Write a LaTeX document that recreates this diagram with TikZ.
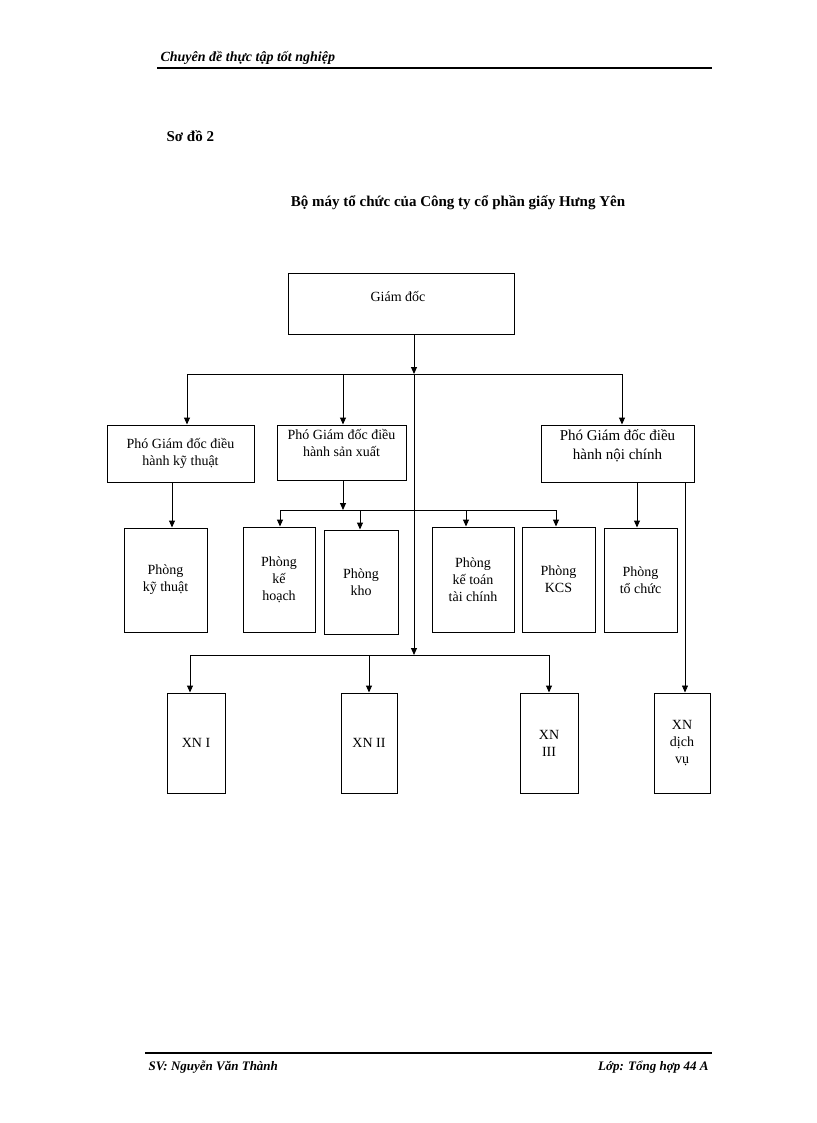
\documentclass[tikz,border=0pt]{standalone}
\usepackage{fontspec}
\setmainfont{Liberation Serif}
\usetikzlibrary{arrows.meta}
\begin{document}
\begin{tikzpicture}[x=1pt,y=-1pt,
  bx/.style={draw,line width=1pt,align=center,font=\fontsize{14}{17}\selectfont},
  ln/.style={line width=1pt},
  ar/.style={line width=1pt,-{Triangle[length=7pt,width=6pt]}}]
\useasboundingbox (0,0) rectangle (816,1123);
% header/footer
\node[anchor=base west,font=\fontsize{14}{16}\selectfont\bfseries\itshape] (hd) at (157,62) {Chuyên đề thực tập tốt nghiệp};
\draw[line width=2.5pt] (157,68) -- (712,68);
\draw[line width=2pt] (145,1053) -- (712,1053);
\node[anchor=base west,font=\fontsize{13}{16}\selectfont\bfseries\itshape] (ft1) at (145,1070) {SV: Nguyễn Văn Thành};
\node[anchor=base east,font=\fontsize{13}{16}\selectfont\bfseries\itshape] (ft2) at (712,1070) {Lớp: Tổng hợp 44 A};
\node[anchor=base west,font=\fontsize{15}{18}\selectfont\bfseries] (so) at (163,142) {Sơ đồ 2};
\node[anchor=base,font=\fontsize{15}{18}\selectfont\bfseries] (tt) at (458,207) {Bộ máy tổ chức của Công ty cổ phần giấy Hưng Yên};
% boxes: corners
\newcommand\bxat[6]{\node[bx,minimum width=#3-#2,minimum height=#5-#4,inner sep=1pt] (#1) at ({(#2+#3)/2},{(#4+#5)/2}) {#6};}
\node[draw,line width=1pt,minimum width=226,minimum height=61,font=\fontsize{14}{17}\selectfont] (gd) at (401,303.5) {};
\node[font=\fontsize{14}{17}\selectfont] (gdt) at (398,296) {Giám đốc};
\bxat{pk}{107}{254}{425}{482}{Phó Giám đốc điều\\hành kỹ thuật}
\node[draw,line width=1pt,minimum width=129,minimum height=55] (ps) at (341.5,452.5) {};
\node[align=center,font=\fontsize{14}{17}\selectfont,anchor=north] (pst) at (341.5,426) {Phó Giám đốc điều\\hành sản xuất};
\node[draw,line width=1pt,minimum width=153,minimum height=57] (pn) at (617.5,453.5) {};
\node[align=center,font=\fontsize{15}{19}\selectfont,anchor=north] (pnt) at (617.5,426) {Phó Giám đốc điều\\hành nội chính};
\bxat{rk}{124}{207}{528}{632}{Phòng\\kỹ thuật}
\bxat{rh}{243}{315}{527}{632}{Phòng\\kế\\hoạch}
\bxat{rw}{324}{398}{530}{634}{Phòng\\kho}
\bxat{rt}{432}{514}{527}{632}{Phòng\\kế toán\\tài chính}
\bxat{rc}{522}{595}{527}{632}{Phòng\\KCS}
\bxat{ro}{604}{677}{528}{632}{Phòng\\tổ chức}
\bxat{x1}{167}{225}{693}{793}{XN I}
\bxat{x2}{341}{397}{693}{793}{XN II}
\bxat{x3}{520}{578}{693}{793}{XN\\III}
\bxat{x4}{654}{710}{693}{793}{XN\\dịch\\vụ}
% connectors
\coordinate (b1) at (414,374);
\coordinate (b2) at (414,655);
\coordinate (s1) at (343,510);
\draw[ar] (gd.south -| b1) -- (b1);
\draw[ar] (b1) -- (b2);
\draw[ln] (187,374) -- (622,374);
\draw[ar] (187,374) -- (pk.north -| 187,0);
\draw[ar] (343,374) -- (ps.north -| 343,0);
\draw[ar] (622,374) -- (pn.north -| 622,0);
\draw[ar] (pk.south -| 172,0) -- (rk.north -| 172,0);
\draw[ar] (ps.south -| s1) -- (s1);
\draw[ln] (280,510) -- (556,510);
\draw[ar] (280,510) -- (rh.north -| 280,0);
\draw[ar] (360,510) -- (rw.north -| 360,0);
\draw[ar] (466,510) -- (rt.north -| 466,0);
\draw[ar] (556,510) -- (rc.north -| 556,0);
\draw[ar] (pn.south -| 637,0) -- (ro.north -| 637,0);
\draw[ar,line width=0.7pt] (pn.south -| 685,0) -- (x4.north -| 685,0);
\draw[ln] (190,655) -- (549,655);
\draw[ar] (190,655) -- (x1.north -| 190,0);
\draw[ar] (369,655) -- (x2.north -| 369,0);
\draw[ar] (549,655) -- (x3.north -| 549,0);
\end{tikzpicture}
\end{document}
